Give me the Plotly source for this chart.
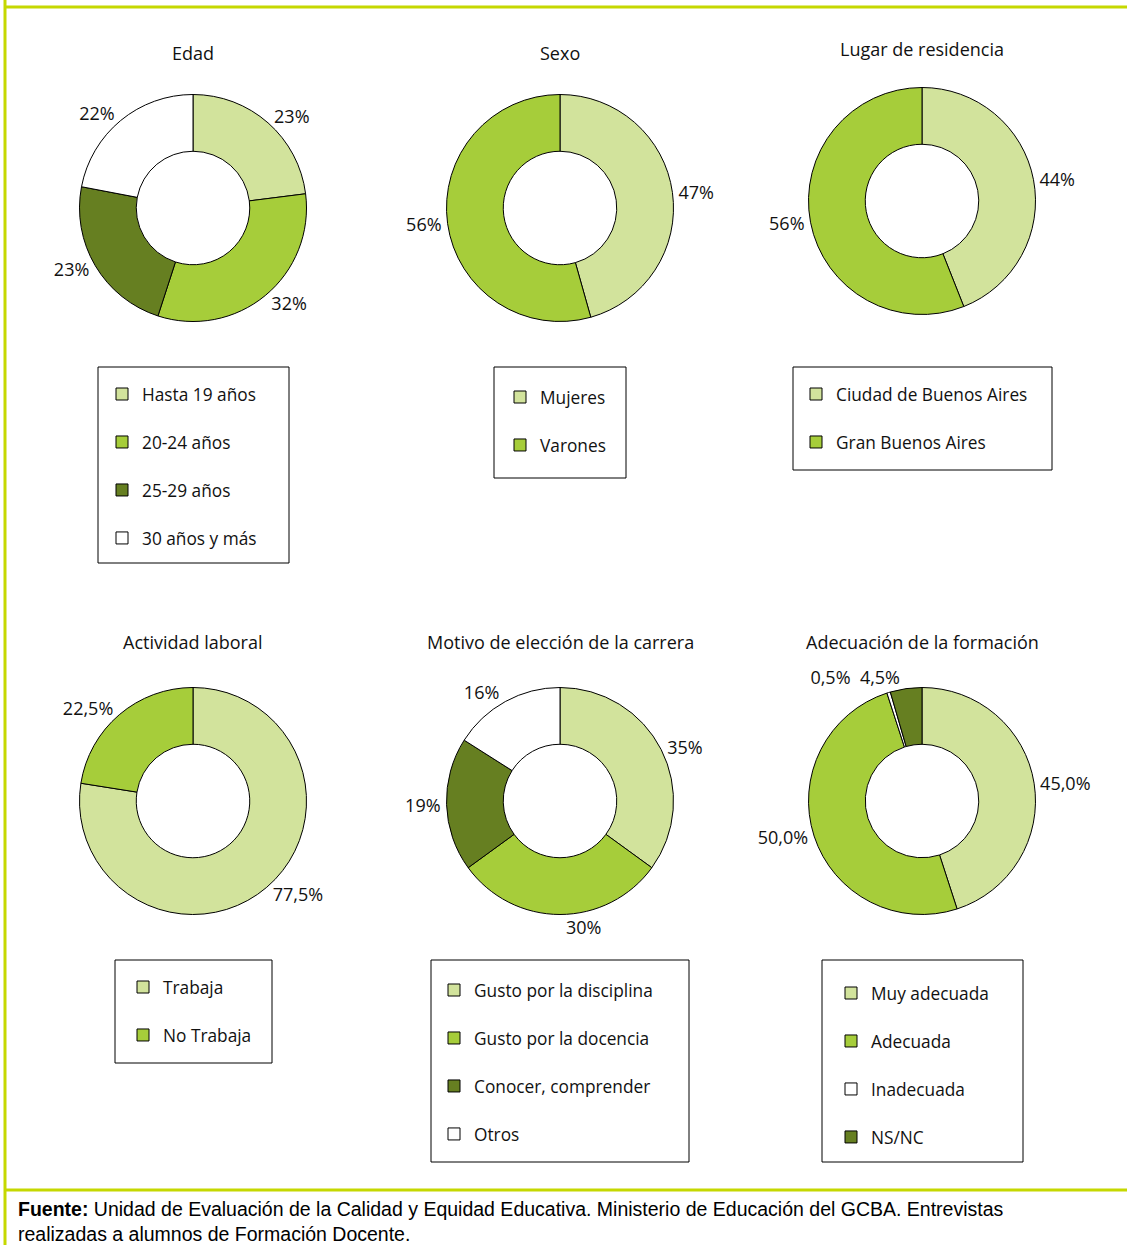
import plotly.graph_objects as go

W, H = 1127, 1245

# ---------------- data ----------------
edad_labels = ["Hasta 19 años", "20-24 años", "25-29 años", "30 años y más"]
edad_values = [23, 32, 23, 22]

sexo_labels = ["Mujeres", "Varones"]
sexo_values = [47, 56]

lugar_labels = ["Ciudad de Buenos Aires", "Gran Buenos Aires"]
lugar_values = [44, 56]

actividad_labels = ["Trabaja", "No Trabaja"]
actividad_values = [77.5, 22.5]

motivo_labels = ["Gusto por la disciplina", "Gusto por la docencia",
                 "Conocer, comprender", "Otros"]
motivo_values = [35, 30, 19, 16]

adecuacion_labels = ["Muy adecuada", "Adecuada", "Inadecuada", "NS/NC"]
adecuacion_values = [45.0, 50.0, 0.5, 4.5]

titles = ["Edad", "Sexo", "Lugar de residencia", "Actividad laboral",
          "Motivo de elección de la carrera", "Adecuación de la formación"]

# ---------------- style ----------------
LIGHT = "#d2e39c"
MED = "#a6cd3a"
DARK = "#667f21"
WHITE = "#ffffff"
BORDER = "#c5d800"
FONT = "'Open Sans', Lato, sans-serif"

fig = go.Figure()

def px_x(x):
    return x / W

def px_y(y):
    return 1 - y / H

R = 113.5
charts = [
    # labels, values, colors, decimals, center, title_y, legend box, first item y, symbol x
    (edad_labels, edad_values, [LIGHT, MED, DARK, WHITE], 0, (193, 208), 53,
     (98, 367, 289, 563), 394, 122),
    (sexo_labels, sexo_values, [LIGHT, MED], 0, (560, 208), 53,
     (494, 367, 626, 478), 397, 520),
    (lugar_labels, lugar_values, [LIGHT, MED], 0, (922, 201), 49,
     (793, 367, 1052, 470), 394, 816),
    (actividad_labels, actividad_values, [LIGHT, MED], 1, (193, 801), 642,
     (115, 960, 272, 1063), 987, 143),
    (motivo_labels, motivo_values, [LIGHT, MED, DARK, WHITE], 0, (560, 801), 642,
     (431, 960, 689, 1162), 990, 454),
    (adecuacion_labels, adecuacion_values, [LIGHT, MED, WHITE, DARK], 1, (922, 801), 642,
     (822, 960, 1023, 1162), 993, 851),
]

FS = 17.3
LH = FS * 1.3
shapes = []
annotations = []
layout_legends = {}

for i, (labels, values, colors, dec, (cx, cy), ty, box, item_y, sym_x) in enumerate(charts):
    lname = "legend" if i == 0 else f"legend{i + 1}"
    texts = [(f"{v:.{dec}f}".replace(".", ",") + "%") for v in values]
    # a very thin slice shares its label line with the following slice
    for k in range(len(values) - 1):
        if values[k] < 1 and texts[k]:
            texts[k + 1] = texts[k] + "  " + texts[k + 1]
            texts[k] = ""
    fig.add_trace(go.Pie(
        labels=[lab + "<br> " for lab in labels],
        values=values,
        text=texts,
        textinfo="text",
        textposition="outside",
        textfont=dict(family=FONT, size=18, color="#111111"),
        sort=False,
        direction="clockwise",
        rotation=0,
        hole=0.5,
        marker=dict(colors=colors, line=dict(color="#000000", width=1)),
        domain=dict(x=[px_x(cx - R), px_x(cx + R)], y=[px_y(cy + R), px_y(cy - R)]),
        legend=lname,
        showlegend=True,
        hoverinfo="label+percent",
    ))
    # title
    annotations.append(dict(
        text=titles[i], x=px_x(cx), y=px_y(ty), xref="paper", yref="paper",
        xanchor="center", yanchor="middle", showarrow=False,
        font=dict(family=FONT, size=18, color="#111111"),
    ))
    # legend box
    x0, y0, x1, y1 = box
    shapes.append(dict(type="rect", xref="paper", yref="paper",
                       x0=px_x(x0), x1=px_x(x1), y0=px_y(y1), y1=px_y(y0),
                       line=dict(color="#000000", width=1), fillcolor="rgba(0,0,0,0)"))
    top = item_y - (6.5 + LH / 2)
    layout_legends[lname] = dict(
        x=px_x(sym_x - 20), y=px_y(top), xanchor="left", yanchor="top",
        bgcolor="rgba(0,0,0,0)", borderwidth=0, valign="top",
        font=dict(family=FONT, size=FS, color="#111111"),
        itemclick=False, itemdoubleclick=False,
    )

# green frame
shapes += [
    dict(type="line", xref="paper", yref="paper", x0=px_x(5), x1=1, y0=px_y(7), y1=px_y(7),
         line=dict(color=BORDER, width=3)),
    dict(type="line", xref="paper", yref="paper", x0=px_x(5), x1=px_x(5), y0=0, y1=1,
         line=dict(color=BORDER, width=3)),
    dict(type="line", xref="paper", yref="paper", x0=px_x(5), x1=1, y0=px_y(1190), y1=px_y(1190),
         line=dict(color=BORDER, width=3)),
]

annotations.append(dict(
    text="<b>Fuente:</b> Unidad de Evaluación de la Calidad y Equidad Educativa. Ministerio de Educación del GCBA. Entrevistas<br>realizadas a alumnos de Formación Docente.",
    x=px_x(16), y=px_y(1196), xref="paper", yref="paper", xanchor="left", yanchor="top",
    align="left", showarrow=False,
    font=dict(family="'Liberation Sans', Arial, sans-serif", size=19.5, color="#000000"),
))

fig.update_layout(
    width=W, height=H,
    margin=dict(l=0, r=0, t=0, b=0),
    paper_bgcolor="#ffffff", plot_bgcolor="#ffffff",
    shapes=shapes, annotations=annotations,
    **layout_legends,
)

fig.write_html(
    "out.html",
    config={"displayModeBar": False},
    post_script="document.body.style.margin='0px';document.body.style.overflow='hidden';",
)
